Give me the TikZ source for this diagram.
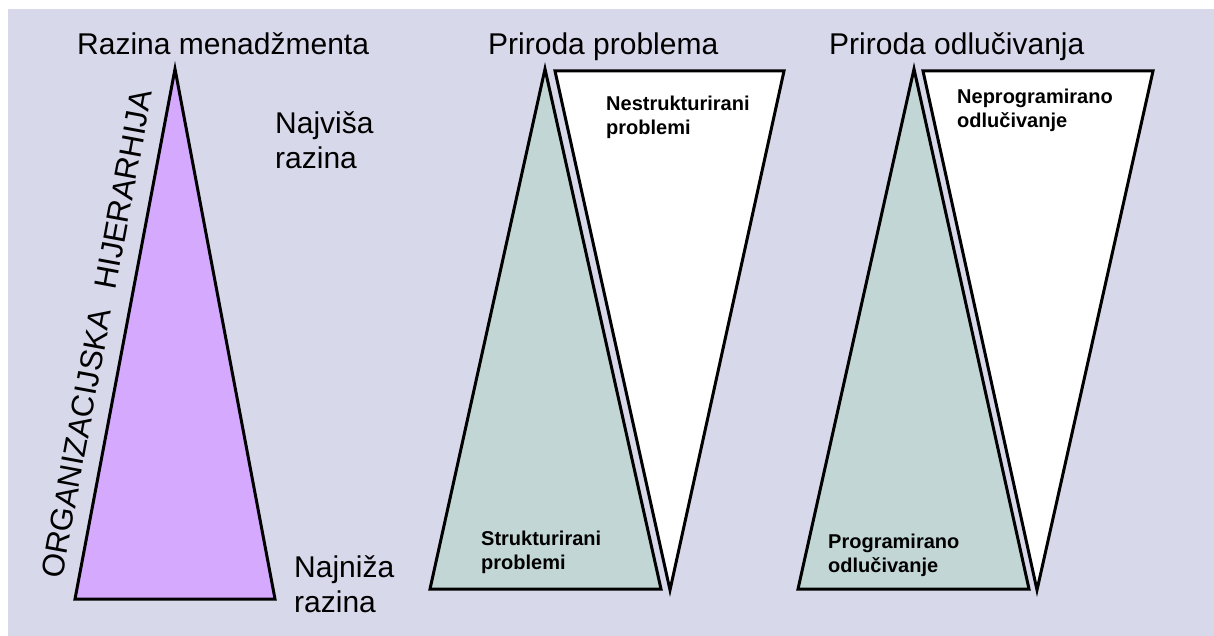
\documentclass[tikz,border=0pt]{standalone}
\usepackage{fontspec}
\setmainfont{Liberation Sans}
\definecolor{bglav}{HTML}{D8D8EB}
\definecolor{lilac}{HTML}{D5A9FE}
\definecolor{sage}{HTML}{C2D7D5}
\tikzset{
  shape3d/.style={draw=black, line width=3pt, line join=miter},
  bigtxt/.style={inner sep=0pt, font=\fontsize{30}{35}\selectfont, align=left},
  smalltxt/.style={inner sep=0pt, font=\fontsize{20}{23.5}\selectfont\bfseries, align=left},
}
\begin{document}
\begin{tikzpicture}[x=1pt,y=-1pt]
\useasboundingbox (0,0) rectangle (1214,636);
\fill[white] (0,0) rectangle (1214,636);
\fill[bglav] (8,9) rectangle (1214,636);
% left pyramid
\filldraw[shape3d, fill=lilac] (175,69) -- (75,599) -- (275,599) -- cycle;
% middle
\filldraw[shape3d, fill=sage] (545,69) -- (430,589) -- (661,589) -- cycle;
\filldraw[shape3d, fill=white] (555,71) -- (784,71) -- (670,590) -- cycle;
% right
\filldraw[shape3d, fill=sage] (914,69) -- (798,589) -- (1029,589) -- cycle;
\filldraw[shape3d, fill=white] (923,71) -- (1153,71) -- (1037,590) -- cycle;
% titles
\node[bigtxt, anchor=base west] (t1) at (77,55) {Razina menadžmenta};
\node[bigtxt, anchor=base west] (t2) at (488,55) {Priroda problema};
\node[bigtxt, anchor=base west] (t3) at (829,55) {Priroda odlučivanja};
% side labels
\node[bigtxt, anchor=north west] (hi) at (275,108.5) {\strut Najviša\\razina};
\node[bigtxt, anchor=north west] (lo) at (294,552.5) {\strut Najniža\\razina};
\node[bigtxt, font=\fontsize{31.3}{36}\selectfont, anchor=base west, rotate=79.5] (org) at (62,580) {ORGANIZACIJSKA\hspace{21pt}HIJERARHIJA};
% inner labels
\node[smalltxt, anchor=north west] (ns) at (606,93.9) {\strut Nestrukturirani\\problemi};
\node[smalltxt, anchor=north west] (st) at (481,528.9) {\strut Strukturirani\\problemi};
\node[smalltxt, anchor=north west] (np) at (957,86.9) {\strut Neprogramirano\\odlučivanje};
\node[smalltxt, anchor=north west] (pr) at (828,531.9) {\strut Programirano\\odlučivanje};
\end{tikzpicture}
\end{document}
